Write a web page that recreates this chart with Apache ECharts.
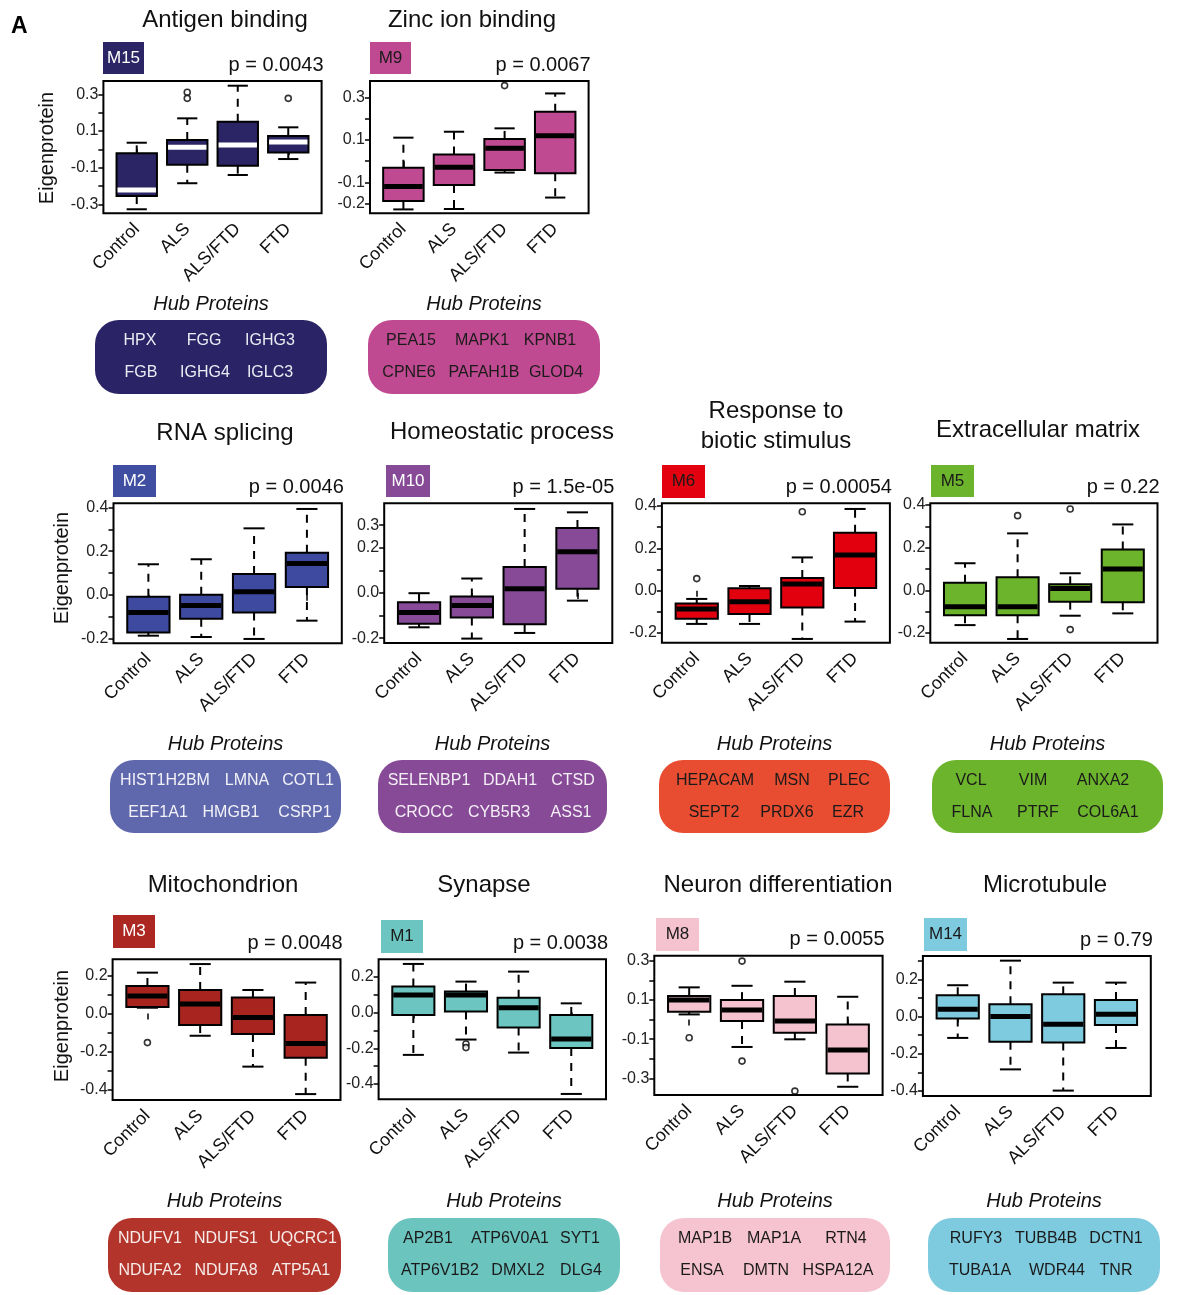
<!DOCTYPE html>
<html>
<head>
<meta charset="utf-8">
<script src="https://cdn.jsdelivr.net/npm/echarts@6/dist/echarts.min.js"></script>
<style>
html,body{margin:0;padding:0;background:#fff}
#chart{width:1192px;height:1295px}
</style>
</head>
<body>
<div id="chart"></div>
<script>
// ---------------- data ----------------
const groups = ['Control', 'ALS', 'ALS/FTD', 'FTD'];

const moduleIds = ['M15', 'M9', 'M2', 'M10', 'M6', 'M5', 'M3', 'M1', 'M8', 'M14'];

const moduleTitles = {
  M15: ['Antigen binding'],
  M9: ['Zinc ion binding'],
  M2: ['RNA splicing'],
  M10: ['Homeostatic process'],
  M6: ['Response to', 'biotic stimulus'],
  M5: ['Extracellular matrix'],
  M3: ['Mitochondrion'],
  M1: ['Synapse'],
  M8: ['Neuron differentiation'],
  M14: ['Microtubule']
};

const pValues = {
  M15: '0.0043', M9: '0.0067', M2: '0.0046', M10: '1.5e-05', M6: '0.00054',
  M5: '0.22', M3: '0.0048', M1: '0.0038', M8: '0.0055', M14: '0.79'
};

const hubProteins = {
  M15: ['HPX', 'FGG', 'IGHG3', 'FGB', 'IGHG4', 'IGLC3'],
  M9: ['PEA15', 'MAPK1', 'KPNB1', 'CPNE6', 'PAFAH1B', 'GLOD4'],
  M2: ['HIST1H2BM', 'LMNA', 'COTL1', 'EEF1A1', 'HMGB1', 'CSRP1'],
  M10: ['SELENBP1', 'DDAH1', 'CTSD', 'CROCC', 'CYB5R3', 'ASS1'],
  M6: ['HEPACAM', 'MSN', 'PLEC', 'SEPT2', 'PRDX6', 'EZR'],
  M5: ['VCL', 'VIM', 'ANXA2', 'FLNA', 'PTRF', 'COL6A1'],
  M3: ['NDUFV1', 'NDUFS1', 'UQCRC1', 'NDUFA2', 'NDUFA8', 'ATP5A1'],
  M1: ['AP2B1', 'ATP6V0A1', 'SYT1', 'ATP6V1B2', 'DMXL2', 'DLG4'],
  M8: ['MAP1B', 'MAP1A', 'RTN4', 'ENSA', 'DMTN', 'HSPA12A'],
  M14: ['RUFY3', 'TUBB4B', 'DCTN1', 'TUBA1A', 'WDR44', 'TNR']
};

// box statistics per group: [lower whisker, Q1, median, Q3, upper whisker]
const statsM15 = [[-0.327, -0.255, -0.222, -0.022, 0.036], [-0.185, -0.084, 0.011, 0.051, 0.169], [-0.140, -0.089, 0.024, 0.151, 0.347], [-0.053, -0.018, 0.040, 0.073, 0.120]];
const statsM9  = [[-0.228, -0.188, -0.120, -0.031, 0.111], [-0.226, -0.113, -0.029, 0.032, 0.139], [-0.054, -0.042, 0.061, 0.105, 0.155], [-0.172, -0.057, 0.120, 0.234, 0.320]];
const statsM2  = [[-0.188, -0.173, -0.082, -0.009, 0.140], [-0.194, -0.110, -0.049, 0.000, 0.163], [-0.203, -0.081, 0.014, 0.095, 0.305], [-0.119, 0.036, 0.144, 0.193, 0.394]];
const statsM10 = [[-0.152, -0.136, -0.087, -0.041, -0.001], [-0.202, -0.109, -0.056, -0.016, 0.064], [-0.177, -0.139, 0.019, 0.115, 0.372], [-0.034, 0.019, 0.183, 0.288, 0.357]];
const statsM6  = [[-0.157, -0.132, -0.087, -0.060, -0.039], [-0.157, -0.110, -0.052, 0.011, 0.022], [-0.228, -0.079, 0.031, 0.060, 0.157], [-0.146, 0.013, 0.169, 0.274, 0.386]];
const statsM5  = [[-0.163, -0.117, -0.077, 0.036, 0.127], [-0.228, -0.117, -0.077, 0.061, 0.267], [-0.119, -0.053, 0.009, 0.028, 0.080], [-0.108, -0.056, 0.100, 0.192, 0.309]];
const statsM3  = [[0.030, 0.034, 0.092, 0.144, 0.214], [-0.117, -0.061, 0.050, 0.123, 0.259], [-0.279, -0.108, -0.021, 0.083, 0.123], [-0.423, -0.232, -0.157, -0.008, 0.162]];
const statsM1  = [[-0.237, -0.013, 0.099, 0.146, 0.273], [-0.151, 0.006, 0.099, 0.118, 0.174], [-0.224, -0.084, 0.028, 0.084, 0.230], [-0.456, -0.198, -0.148, -0.013, 0.052]];
const statsM8  = [[0.026, 0.040, 0.099, 0.120, 0.164], [-0.140, -0.008, 0.048, 0.099, 0.172], [-0.101, -0.067, -0.008, 0.120, 0.193], [-0.343, -0.275, -0.156, -0.025, 0.116]];
const statsM14 = [[-0.115, -0.011, 0.039, 0.114, 0.168], [-0.284, -0.135, 0.000, 0.066, 0.300], [-0.398, -0.140, -0.042, 0.119, 0.182], [-0.169, -0.045, 0.012, 0.089, 0.182]];

// outlying samples: [group position, value]
const outM15 = [[2, 0.311], [2, 0.278], [4, 0.278]];
const outM9  = [[3, 0.357]];
const outM2  = [];
const outM10 = [];
const outM6  = [[1, 0.057], [3, 0.373]];
const outM5  = [[2, 0.350], [3, 0.381], [3, -0.184]];
const outM3  = [[1, -0.153]];
const outM1  = [[2, -0.176], [2, -0.196]];
const outM8  = [[1, -0.093], [2, 0.298], [2, -0.212], [3, -0.365]];
const outM14 = [];

const boxStats = { M15: statsM15, M9: statsM9, M2: statsM2, M10: statsM10, M6: statsM6, M5: statsM5, M3: statsM3, M1: statsM1, M8: statsM8, M14: statsM14 };
const outliers = { M15: outM15, M9: outM9, M2: outM2, M10: outM10, M6: outM6, M5: outM5, M3: outM3, M1: outM1, M8: outM8, M14: outM14 };

// y-axis tick marks and labelled ticks
const yTicks = {
  M15: [-0.3, -0.2, -0.1, 0, 0.1, 0.2, 0.3],
  M9: [-0.2, -0.1, 0, 0.1, 0.2, 0.3],
  M2: [-0.2, -0.1, 0, 0.1, 0.2, 0.3, 0.4],
  M10: [-0.2, -0.1, 0, 0.1, 0.2, 0.3],
  M6: [-0.2, -0.1, 0, 0.1, 0.2, 0.3, 0.4],
  M5: [-0.2, -0.1, 0, 0.1, 0.2, 0.3, 0.4],
  M3: [-0.4, -0.3, -0.2, -0.1, 0, 0.1, 0.2],
  M1: [-0.4, -0.3, -0.2, -0.1, 0, 0.1, 0.2],
  M8: [-0.3, -0.2, -0.1, 0, 0.1, 0.2, 0.3],
  M14: [-0.4, -0.3, -0.2, -0.1, 0, 0.1, 0.2, 0.3]
};
const yLabels = {
  M15: [-0.3, -0.1, 0.1, 0.3],
  M9: [-0.2, -0.1, 0.1, 0.3],
  M2: [-0.2, 0, 0.2, 0.4],
  M10: [-0.2, 0, 0.2, 0.3],
  M6: [-0.2, 0, 0.2, 0.4],
  M5: [-0.2, 0, 0.2, 0.4],
  M3: [-0.4, -0.2, 0, 0.2],
  M1: [-0.4, -0.2, 0, 0.2],
  M8: [-0.3, -0.1, 0.1, 0.3],
  M14: [-0.4, -0.2, 0, 0.2]
};

// ---------------- styles ----------------
const colors = {
  M15: { box: '#2b2565', badge: '#2b2565', badgeText: '#ffffff', hub: '#2a2366', hubText: '#ececf4', median: '#ffffff' },
  M9:  { box: '#c04a91', badge: '#c04a91', badgeText: '#1a1a1a', hub: '#c04a91', hubText: '#1a1a1a', median: '#000000' },
  M2:  { box: '#3d4a9f', badge: '#3f4ea0', badgeText: '#ffffff', hub: '#6068ad', hubText: '#f2f2f8', median: '#000000' },
  M10: { box: '#874a97', badge: '#874a97', badgeText: '#ffffff', hub: '#874a97', hubText: '#f4f0f6', median: '#000000' },
  M6:  { box: '#e2000f', badge: '#e3000f', badgeText: '#1a1a1a', hub: '#e84c31', hubText: '#1a1a1a', median: '#000000' },
  M5:  { box: '#6cb42c', badge: '#6cb42c', badgeText: '#1a1a1a', hub: '#6cb42c', hubText: '#1a1a1a', median: '#000000' },
  M3:  { box: '#a8241f', badge: '#ad2722', badgeText: '#ffffff', hub: '#b3342b', hubText: '#f6ecea', median: '#000000' },
  M1:  { box: '#6cc5c0', badge: '#6cc5c0', badgeText: '#1a1a1a', hub: '#6cc4bf', hubText: '#1a1a1a', median: '#000000' },
  M8:  { box: '#f5c3d0', badge: '#f5c3d0', badgeText: '#1a1a1a', hub: '#f6c4d1', hubText: '#1a1a1a', median: '#000000' },
  M14: { box: '#7ecbdf', badge: '#7ecbdf', badgeText: '#1a1a1a', hub: '#7ecbdf', hubText: '#1a1a1a', median: '#000000' }
};

// ---------------- layout ----------------
// frame: [left, top, right, bottom]; yRange: visible value range of the frame
const layout = {
  M15: { frame: [103.4, 81, 321.6, 213.3], yRange: [-0.349, 0.3727], badge: [103, 42, 41, 32], title: [225, 20], hubTitleY: 304, hubBox: [95, 320, 232, 74], hubX: [140, 204, 270, 141, 205, 270] },
  M9:  { frame: [370, 81, 588.6, 213.3], yRange: [-0.2464, 0.3787], badge: [370, 42, 41, 32], title: [472, 20], hubTitleY: 304, hubBox: [368, 320, 232, 74], hubX: [411, 482, 550, 409, 484, 556] },
  M2:  { frame: [113.5, 503.3, 341.8, 643.3], yRange: [-0.223, 0.42], badge: [113, 465, 43, 32], title: [225, 433], hubTitleY: 744, hubBox: [110, 760, 231, 73], hubX: [165, 247, 308, 158, 231, 305] },
  M10: { frame: [384.2, 503.3, 612.3, 643], yRange: [-0.2215, 0.397], badge: [386, 465, 44, 32], title: [502, 432], hubTitleY: 744, hubBox: [378, 760, 229, 73], hubX: [429, 510, 573, 424, 499, 571] },
  M6:  { frame: [661.9, 503.3, 889.9, 642.7], yRange: [-0.2457, 0.4127], badge: [662, 465, 43, 33], title: [776, 411], hubTitleY: 744, hubBox: [659, 760, 231, 73], hubX: [715, 792, 849, 714, 787, 848] },
  M5:  { frame: [930.3, 503.3, 1157.5, 642.7], yRange: [-0.2455, 0.408], badge: [931, 465, 43, 32], title: [1038, 430], hubTitleY: 744, hubBox: [932, 760, 231, 73], hubX: [971, 1033, 1103, 972, 1038, 1108] },
  M3:  { frame: [112.6, 959.3, 340.5, 1100], yRange: [-0.454, 0.284], badge: [113, 915, 42, 33], title: [223, 885], hubTitleY: 1201, hubBox: [108, 1218, 233, 74], hubX: [150, 226, 303, 150, 226, 301] },
  M1:  { frame: [378.6, 959.3, 606, 1099.3], yRange: [-0.486, 0.299], badge: [381, 920, 42, 33], title: [484, 885], hubTitleY: 1201, hubBox: [388, 1218, 232, 74], hubX: [428, 510, 580, 440, 518, 581] },
  M8:  { frame: [654.3, 955.7, 882.6, 1095], yRange: [-0.385, 0.3255], badge: [656, 918, 43, 33], title: [778, 885], hubTitleY: 1201, hubBox: [660, 1218, 230, 74], hubX: [705, 774, 846, 702, 766, 838] },
  M14: { frame: [922.9, 956, 1150.8, 1096], yRange: [-0.427, 0.325], badge: [924, 918, 43, 33], title: [1045, 885], hubTitleY: 1201, hubBox: [928, 1218, 232, 74], hubX: [976, 1046, 1116, 980, 1057, 1116] }
};
const yNamePos = [[47, 148], [62, 568], [62, 1026]];

const FONT = '"Liberation Sans", Arial, Helvetica, sans-serif';

// ---------------- build ----------------
function boxRenderer(fill, medColor) {
  return function (params, api) {
    const x = api.value(0);
    const lo = api.coord([x, api.value(1)]);
    const q1 = api.coord([x, api.value(2)]);
    const md = api.coord([x, api.value(3)]);
    const q3 = api.coord([x, api.value(4)]);
    const hi = api.coord([x, api.value(5)]);
    const w = api.size([0.8, 0])[0];
    const cx = lo[0];
    const cap = w / 4;
    const solid = { stroke: '#000', lineWidth: 2 };
    const dashed = { stroke: '#000', lineWidth: 2, lineDash: [8, 7] };
    return {
      type: 'group',
      children: [
        { type: 'line', shape: { x1: cx, y1: q3[1], x2: cx, y2: hi[1] }, style: dashed },
        { type: 'line', shape: { x1: cx, y1: q1[1], x2: cx, y2: lo[1] }, style: dashed },
        { type: 'line', shape: { x1: cx - cap, y1: hi[1], x2: cx + cap, y2: hi[1] }, style: solid },
        { type: 'line', shape: { x1: cx - cap, y1: lo[1], x2: cx + cap, y2: lo[1] }, style: solid },
        { type: 'rect', shape: { x: cx - w / 2, y: q3[1], width: w, height: q1[1] - q3[1] }, style: { fill: fill, stroke: '#000', lineWidth: 2 } },
        { type: 'line', shape: { x1: cx - w / 2 + 1, y1: md[1], x2: cx + w / 2 - 1, y2: md[1] }, style: { stroke: medColor, lineWidth: 5 } }
      ]
    };
  };
}

const grids = [], xAxes = [], yAxes = [], series = [], graphics = [];

moduleIds.forEach(function (id, i) {
  const L = layout[id], C = colors[id];
  const f = L.frame;
  grids.push({
    left: f[0], top: f[1], width: f[2] - f[0], height: f[3] - f[1],
    show: true, borderColor: '#000', borderWidth: 2, backgroundColor: 'rgba(0,0,0,0)'
  });
  xAxes.push({
    gridIndex: i, type: 'value', min: 0.34, max: 4.66,
    axisLine: { show: false }, splitLine: { show: false },
    axisTick: { show: true, customValues: [1, 2, 3, 4], length: 6, lineStyle: { color: '#000', width: 1.5 } },
    axisLabel: {
      show: true, customValues: [1, 2, 3, 4], rotate: 45, margin: 13,
      formatter: function (v) { return groups[Math.round(v) - 1]; },
      fontSize: 18, fontFamily: FONT, color: '#111'
    }
  });
  yAxes.push({
    gridIndex: i, type: 'value', min: L.yRange[0], max: L.yRange[1],
    axisLine: { show: false }, splitLine: { show: false },
    axisTick: { show: true, customValues: yTicks[id], length: 5, lineStyle: { color: '#000', width: 1.5 } },
    axisLabel: {
      show: true, customValues: yLabels[id], margin: 5,
      formatter: function (v) { return (Math.abs(v) < 1e-9 ? 0 : v).toFixed(1); },
      fontSize: 16, fontFamily: FONT, color: '#222'
    }
  });
  series.push({
    type: 'custom', xAxisIndex: i, yAxisIndex: i,
    renderItem: boxRenderer(C.box, C.median),
    encode: { x: 0, y: [1, 2, 3, 4, 5] },
    data: boxStats[id].map(function (s, k) { return [k + 1].concat(s); }),
    z: 3
  });
  series.push({
    type: 'scatter', xAxisIndex: i, yAxisIndex: i,
    symbol: 'circle', symbolSize: 6,
    itemStyle: { color: '#fff', borderColor: '#000', borderWidth: 1.6 },
    data: outliers[id], z: 4
  });

  // panel title
  const t = moduleTitles[id];
  t.forEach(function (line, k) {
    graphics.push({ type: 'text', style: { text: line, x: L.title[0], y: L.title[1] + k * 30, textAlign: 'center', textVerticalAlign: 'middle', font: '24px ' + FONT, fill: '#111' } });
  });
  // module badge
  const b = L.badge;
  graphics.push({ type: 'rect', shape: { x: b[0], y: b[1], width: b[2], height: b[3] }, style: { fill: C.badge } });
  graphics.push({ type: 'text', style: { text: id, x: b[0] + b[2] / 2, y: b[1] + b[3] / 2, textAlign: 'center', textVerticalAlign: 'middle', font: '17px ' + FONT, fill: C.badgeText } });
  // p-value
  graphics.push({ type: 'text', style: { text: 'p = ' + pValues[id], x: f[2] + 2, y: f[1] - 16, textAlign: 'right', textVerticalAlign: 'middle', font: '20px ' + FONT, fill: '#111' } });
  // hub proteins
  const hb = L.hubBox;
  const hcx = hb[0] + hb[2] / 2;
  graphics.push({ type: 'text', style: { text: 'Hub Proteins', x: hcx, y: L.hubTitleY, textAlign: 'center', textVerticalAlign: 'middle', font: 'italic 20px ' + FONT, fill: '#111' } });
  graphics.push({ type: 'rect', shape: { x: hb[0], y: hb[1], width: hb[2], height: hb[3], r: 24 }, style: { fill: C.hub } });
  hubProteins[id].forEach(function (name, k) {
    const row = k < 3 ? 0 : 1;
    graphics.push({ type: 'text', style: { text: name, x: L.hubX[k], y: hb[1] + 21 + row * 32, textAlign: 'center', textVerticalAlign: 'middle', font: '16px ' + FONT, fill: C.hubText } });
  });
});

// y-axis names on the first panel of each row
yNamePos.forEach(function (p) {
  graphics.push({ type: 'text', rotation: Math.PI / 2, x: p[0], y: p[1], style: { text: 'Eigenprotein', x: 0, y: 0, textAlign: 'center', textVerticalAlign: 'middle', font: '20px ' + FONT, fill: '#111' } });
});
// figure panel letter
graphics.push({ type: 'text', style: { text: 'A', x: 11, y: 27, textAlign: 'left', textVerticalAlign: 'middle', font: 'bold 23px ' + FONT, fill: '#000' } });

const chart = echarts.init(document.getElementById('chart'), null, { renderer: 'canvas' });
chart.setOption({
  animation: false,
  backgroundColor: '#fff',
  grid: grids,
  xAxis: xAxes,
  yAxis: yAxes,
  series: series,
  graphic: { elements: graphics }
});
</script>
</body>
</html>
